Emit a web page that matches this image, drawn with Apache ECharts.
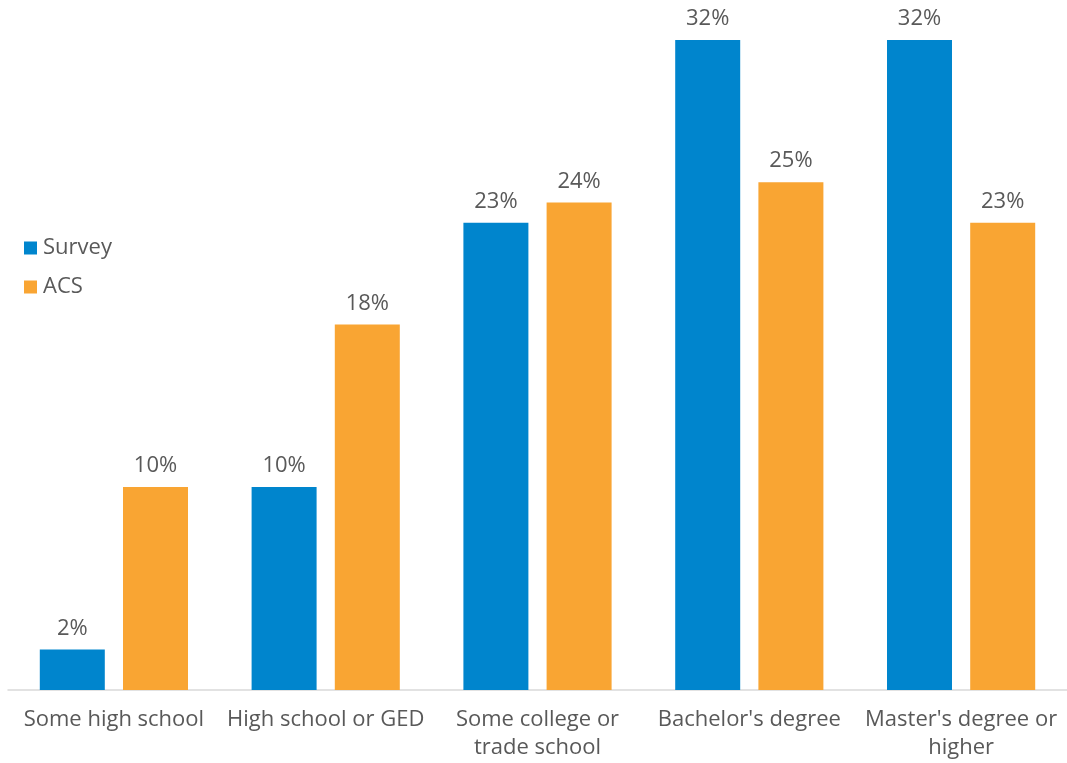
<!DOCTYPE html>
<html>
<head>
<meta charset="utf-8">
<script src="https://cdn.jsdelivr.net/npm/echarts@6/dist/echarts.min.js"></script>
<style>
  html, body { margin: 0; padding: 0; background: #fff; }
  #chart { width: 1067px; height: 763px; }
</style>
</head>
<body>
<div id="chart"></div>
<script>
// Educational attainment: survey respondents vs. ACS population (%)
const categories = [
  'Some high school',
  'High school or GED',
  'Some college or\ntrade school',
  "Bachelor's degree",
  "Master's degree or\nhigher"
];
const surveyValues = [2, 10, 23, 32, 32];
const acsValues = [10, 18, 24, 25, 23];

const textColor = '#595959';
const fontFamily = '"Open Sans", "Noto Sans", sans-serif';

const chart = echarts.init(document.getElementById('chart'));

const labelStyle = {
  show: true,
  position: 'top',
  distance: 10,
  formatter: p => p.value + '%',
  color: textColor,
  fontSize: 22,
  lineHeight: 22,
  fontFamily: fontFamily
};

chart.setOption({
  animation: false,
  grid: { left: 8, right: 0, top: 40, bottom: 73, containLabel: false },
  legend: {
    orient: 'vertical',
    left: 24,
    top: 237,
    padding: 0,
    itemWidth: 13,
    itemHeight: 13,
    itemGap: 17,
    icon: 'rect',
    textStyle: { color: textColor, fontSize: 22, lineHeight: 22, fontFamily: fontFamily, padding: [0, 0, 0, 1] },
    data: ['Survey', 'ACS']
  },
  xAxis: {
    type: 'category',
    data: categories,
    axisLine: { lineStyle: { color: '#d9d9d9', width: 1.5 } },
    axisTick: { show: false },
    axisLabel: {
      color: textColor,
      fontSize: 22,
      fontFamily: fontFamily,
      lineHeight: 28,
      margin: 16,
      interval: 0
    }
  },
  yAxis: {
    type: 'value',
    min: 0,
    max: 32,
    show: false,
    splitLine: { show: false }
  },
  series: [
    {
      name: 'Survey',
      type: 'bar',
      data: surveyValues,
      barWidth: 65,
      barGap: '28%',
      itemStyle: { color: '#0085CD' },
      label: labelStyle
    },
    {
      name: 'ACS',
      type: 'bar',
      data: acsValues,
      barWidth: 65,
      itemStyle: { color: '#F9A533' },
      label: labelStyle
    }
  ]
});
</script>
</body>
</html>
